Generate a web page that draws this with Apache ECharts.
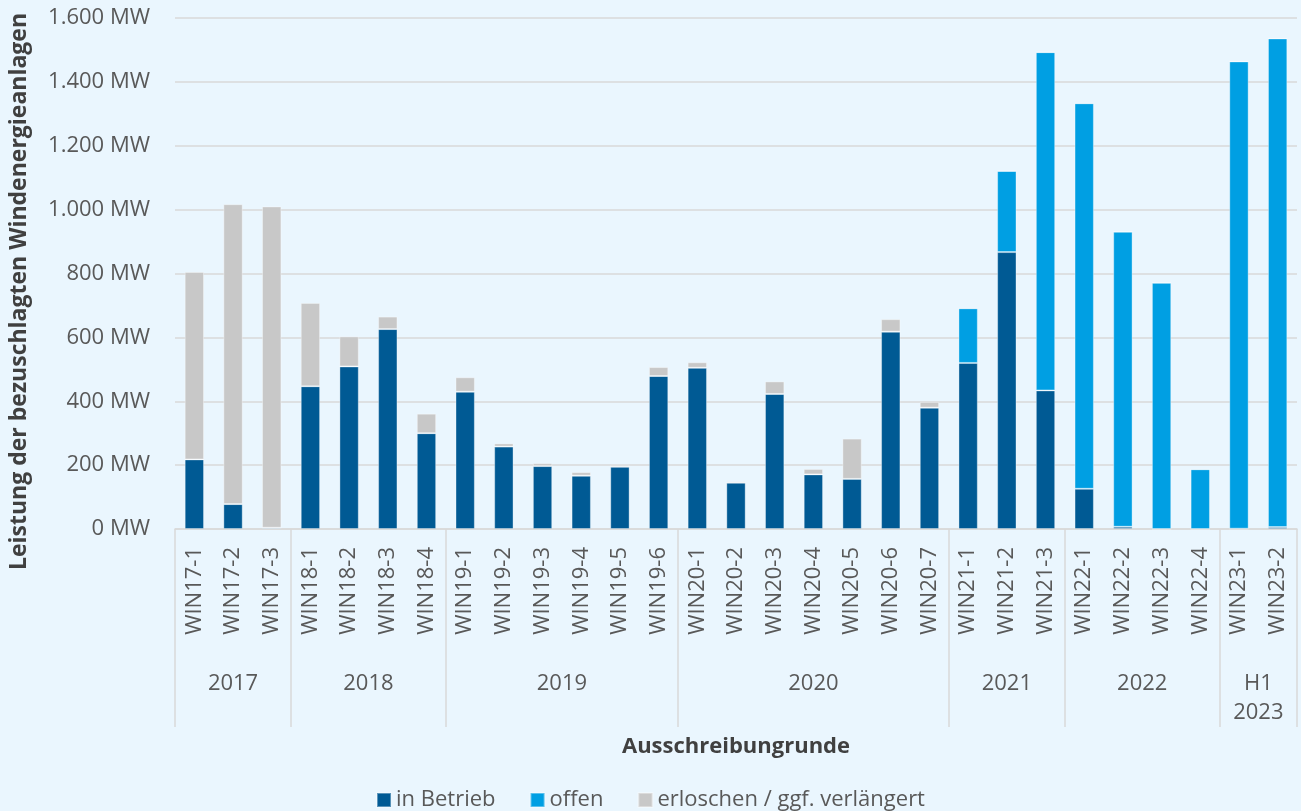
<!DOCTYPE html>
<html>
<head>
<meta charset="utf-8">
<script src="https://cdn.jsdelivr.net/npm/echarts@6/dist/echarts.min.js"></script>
<style>
  html, body { margin: 0; padding: 0; background: #eaf6fe; }
  #chart { width: 1301px; height: 811px; }
</style>
</head>
<body>
<div id="chart"></div>
<script>
// Ausschreibungsrunden
var categories = [
  "WIN17-1", "WIN17-2", "WIN17-3",
  "WIN18-1", "WIN18-2", "WIN18-3", "WIN18-4",
  "WIN19-1", "WIN19-2", "WIN19-3", "WIN19-4", "WIN19-5", "WIN19-6",
  "WIN20-1", "WIN20-2", "WIN20-3", "WIN20-4", "WIN20-5", "WIN20-6", "WIN20-7",
  "WIN21-1", "WIN21-2", "WIN21-3",
  "WIN22-1", "WIN22-2", "WIN22-3", "WIN22-4",
  "WIN23-1", "WIN23-2"
];
// Jahre + Anzahl Runden pro Jahr
var years = ["2017", "2018", "2019", "2020", "2021", "2022", "H1\n2023"];
var yearSizes = [3, 4, 6, 7, 3, 4, 2];

// MW-Werte je Status
var inBetrieb = [218, 78, 4, 447, 509, 626, 300, 430, 258, 197, 167, 195, 479,
  505, 145, 423, 171, 157, 618, 380, 520, 867, 434, 126, 7, 0, 0, 1, 6];
var offen = [0, 0, 0, 0, 0, 0, 0, 0, 0, 0, 0, 0, 0,
  0, 0, 0, 0, 0, 0, 0, 171, 254, 1059, 1207, 924, 771, 187, 1463, 1530];
var erloschen = [587, 939, 1006, 261, 94, 39, 61, 45, 10, 9, 11, 6, 28,
  17, 4, 39, 17, 126, 39, 18, 0, 0, 0, 0, 0, 0, 0, 0, 0];

var yTicks = { min: 0, max: 1600, interval: 200 };

(function () {
  var myChart = echarts.init(document.getElementById("chart"));
  var font = "'Open Sans', 'Noto Sans', sans-serif";
  var textGray = "#595959";
  var fs = 22;

  // zweite Achse mit halben Schritten: Jahreslabels in der Mitte, Striche an den Grenzen
  var halfSlots = [];
  var labelAt = {};
  var tickAt = {};
  var start = 0;
  yearSizes.forEach(function (n, i) {
    var end = start + n - 1;
    labelAt[start + end + 1] = years[i];
    tickAt[2 * start] = true;
    start += n;
  });
  tickAt[2 * start] = true;
  for (var j = 0; j <= 2 * categories.length; j++) {
    halfSlots.push(labelAt[j] || "");
  }

  function fmtMW(v) {
    return String(v).replace(/\B(?=(\d{3})+(?!\d))/g, ".") + " MW";
  }

  var barStyle = function (color) {
    return {
      color: color,
      borderColor: "rgba(255,255,255,0.35)",
      borderWidth: 1,
    };
  };

  var option = {
    backgroundColor: "#eaf6fe",
    textStyle: { fontFamily: font },
    animation: false,
    grid: {
      left: 172,
      right: 4,
      top: 18,
      bottom: 282,
      containLabel: false,
    },
    legend: {
      top: 784,
      left: "center",
      icon: "rect",
      itemWidth: 14,
      itemHeight: 14,
      itemGap: 34,
      textStyle: { color: textGray, fontSize: fs, fontFamily: font },
      data: ["in Betrieb", "offen", "erloschen / ggf. verlängert"],
    },
    xAxis: [
      {
        type: "category",
        data: categories,
        axisLine: { lineStyle: { color: "#d9d9d9", width: 1.5 } },
        axisTick: { show: false },
        axisLabel: {
          rotate: 90,
          interval: 0,
          margin: 18,
          color: textGray,
          fontSize: fs,
          fontFamily: font,
        },
      },
      {
        type: "category",
        position: "bottom",
        data: halfSlots,
        boundaryGap: false,
        axisLine: { show: false },
        axisTick: {
          show: true,
          length: 198,
          interval: function (index) {
            return !!tickAt[index];
          },
          lineStyle: { color: "#d9d9d9", width: 1.5 },
        },
        axisLabel: {
          interval: function (index) {
            return !!labelAt[index];
          },
          margin: 140,
          color: textGray,
          fontSize: fs,
          lineHeight: 29,
          verticalAlign: "top",
          fontFamily: font,
        },
        name: "Ausschreibungrunde",
        nameLocation: "middle",
        nameGap: 207,
        nameTextStyle: {
          color: "#404040",
          fontSize: fs,
          fontWeight: "bold",
          fontFamily: font,
        },
      },
    ],
    yAxis: {
      type: "value",
      min: yTicks.min,
      max: yTicks.max,
      interval: yTicks.interval,
      axisLine: { show: false },
      axisTick: { show: false },
      splitLine: { lineStyle: { color: "#d9d9d9", width: 1.5 } },
      axisLabel: {
        formatter: fmtMW,
        margin: 25,
        color: textGray,
        fontSize: fs,
        fontFamily: font,
      },
      name: "Leistung der bezuschlagten Windenergieanlagen",
      nameLocation: "middle",
      nameGap: 144,
      nameTextStyle: {
        color: "#404040",
        fontSize: 23,
        fontWeight: "bold",
        fontFamily: font,
        padding: [0, 36, 0, 0],
      },
    },
    series: [
      {
        name: "in Betrieb",
        type: "bar",
        stack: "mw",
        barWidth: "50%",
        itemStyle: barStyle("#005a94"),
        data: inBetrieb,
      },
      {
        name: "offen",
        type: "bar",
        stack: "mw",
        itemStyle: barStyle("#009fe3"),
        data: offen,
      },
      {
        name: "erloschen / ggf. verlängert",
        type: "bar",
        stack: "mw",
        itemStyle: barStyle("#c8c8c8"),
        data: erloschen,
      },
    ],
  };

  myChart.setOption(option);
  window.addEventListener("resize", function () {
    myChart.resize();
  });
})();
</script>
</body>
</html>
